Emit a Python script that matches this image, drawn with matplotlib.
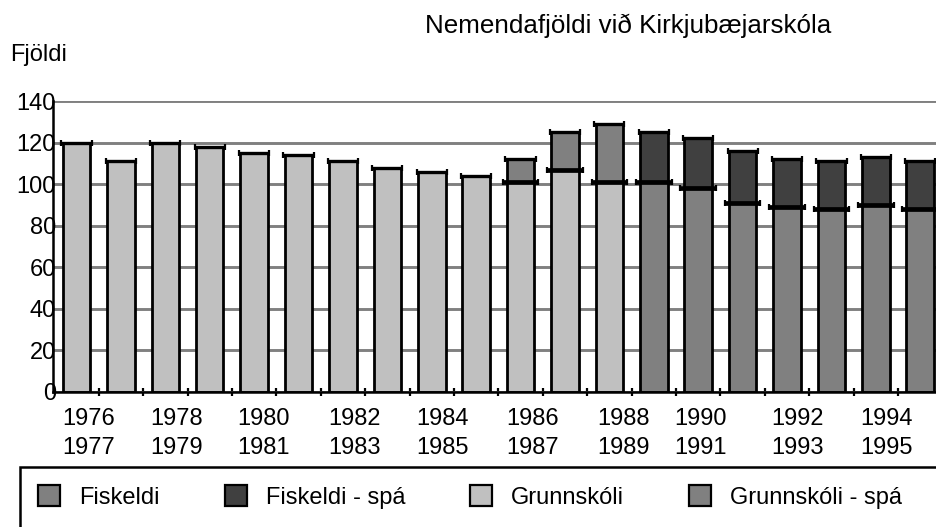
import numpy as np
import matplotlib
matplotlib.use('Agg')
import matplotlib.pyplot as plt
import matplotlib.transforms as mtransforms
from matplotlib.patches import Rectangle, Patch

plt.rcParams['font.family'] = ['Liberation Sans', 'DejaVu Sans']

# ---------------- data ----------------
categories = ["1976-1977", "1977-1978", "1978-1979", "1979-1980", "1980-1981",
              "1981-1982", "1982-1983", "1983-1984", "1984-1985", "1985-1986",
              "1986-1987", "1987-1988", "1988-1989", "1989-1990", "1990-1991",
              "1991-1992", "1992-1993", "1993-1994", "1994-1995", "1995-1996"]
n = None
grunnskoli     = [120, 111, 120, 118, 115, 114, 111, 108, 106, 104, 101, 107, 101, n, n, n, n, n, n, n]
fiskeldi       = [n, n, n, n, n, n, n, n, n, n, 11, 18, 28, n, n, n, n, n, n, n]
grunnskoli_spa = [n, n, n, n, n, n, n, n, n, n, n, n, n, 101, 98, 91, 89, 88, 90, 88]
fiskeldi_spa   = [n, n, n, n, n, n, n, n, n, n, n, n, n, 24, 24, 25, 23, 23, 23, 23]
tick_index  = [0, 2, 4, 6, 8, 10, 12, 14, 16, 18]
tick_labels = ["1976\n1977", "1978\n1979", "1980\n1981", "1982\n1983", "1984\n1985",
               "1986\n1987", "1988\n1989", "1990\n1991", "1992\n1993", "1994\n1995"]
y_ticks = [0, 20, 40, 60, 80, 100, 120, 140]

title = "Nemendafjöldi við Kirkjubæjarskóla"
ylabel = "Fjöldi"
series_names = ["Fiskeldi", "Fiskeldi - spá", "Grunnskóli", "Grunnskóli - spá"]

# ---------------- styling ----------------
c_grunn = '#c0c0c0'
c_fisk = '#808080'
c_gspa = '#808080'
c_fspa = '#404040'
FS = 17

def arr(v):
    return np.array([np.nan if e is None else e for e in v], dtype=float)

G, F, GS, FSp = arr(grunnskoli), arr(fiskeldi), arr(grunnskoli_spa), arr(fiskeldi_spa)
x = np.arange(len(categories))
w = 0.62

fig = plt.figure(figsize=(9.36, 5.27), dpi=100)
ax = fig.add_axes([52.5/936, 1-392/527, (942-52.5)/936, 291/527])

ax.bar(x, G, w, color=c_grunn, edgecolor='black', linewidth=2, zorder=3)
ax.bar(x, F, w, bottom=G, color=c_fisk, edgecolor='black', linewidth=2, zorder=3)
ax.bar(x, GS, w, color=c_gspa, edgecolor='black', linewidth=2, zorder=3)
ax.bar(x, FSp, w, bottom=GS, color=c_fspa, edgecolor='black', linewidth=2, zorder=3)

# top lines of segments
tops_single = np.where(np.isnan(F), G, np.nan)
mid = np.where(~np.isnan(F), G, GS)
top = np.where(~np.isnan(F), G + F, np.where(~np.isnan(FSp), GS + FSp, np.nan))
for vals, ext, lw in [(tops_single, 0.03, 2.4), (top, 0.03, 2.4), (mid, 0.09, 3.4)]:
    ax.errorbar(x, vals, xerr=w/2 + ext, fmt='none', ecolor='black',
                elinewidth=lw, capsize=2.5, capthick=1.6, zorder=4)

ax.set_xlim(-0.54, 19.49)
ax.set_ylim(0, 140)
ax.set_yticks(y_ticks)
ax.yaxis.grid(True, color='#808080', linewidth=2.1, zorder=0)
ax.set_axisbelow(True)
for s in ['top', 'right']:
    ax.spines[s].set_visible(False)
for s in ['left', 'bottom']:
    ax.spines[s].set_linewidth(1.8)
    ax.spines[s].set_zorder(5)
ax.tick_params(axis='y', length=0, pad=-2.5, labelsize=FS)

ax.set_xticks(tick_index)
ax.set_xticklabels(tick_labels, fontsize=FS, linespacing=1.42)
ax.set_xticks(x[:-1] + 0.5, minor=True)
ax.tick_params(axis='x', which='major', length=0, pad=11.5)
ax.tick_params(axis='x', which='minor', length=6, width=1.6, direction='inout', color='black')

offsets_px = [12.0, 11.5, 9.0, 11.5, 11.0, 12.0, 14.0, 2.0, 10.0, 11.0]
for lab, dx in zip(ax.get_xticklabels(), offsets_px):
    lab.set_transform(lab.get_transform() + mtransforms.ScaledTranslation(dx/100, 0, fig.dpi_scale_trans))

fig.text(628/936, 1-33/527, title, ha='center', va='baseline', fontsize=18.7)
fig.text(10/936, 1-55/527, ylabel, ha='left', va='center', fontsize=FS)

# legend: one entry per box position
colors = [c_fisk, c_fspa, c_grunn, c_gspa]
square_left = [38, 225, 470, 689]
for name, c, xl in zip(series_names, colors, square_left):
    h = Patch(facecolor=c, edgecolor='black', linewidth=1.6)
    lg = fig.legend([h], [name], loc='center left',
                    bbox_to_anchor=(xl/936, 1-497/527), frameon=False, fontsize=FS,
                    handlelength=0.95, handleheight=0.95, handletextpad=0.8,
                    borderpad=0, borderaxespad=0)
fig.add_artist(Rectangle((19.5/936, -0.1), 1.1, (1-467/527) + 0.1, transform=fig.transFigure,
                         fill=False, edgecolor='black', linewidth=1.8))

fig.savefig('out.png', dpi=100)
